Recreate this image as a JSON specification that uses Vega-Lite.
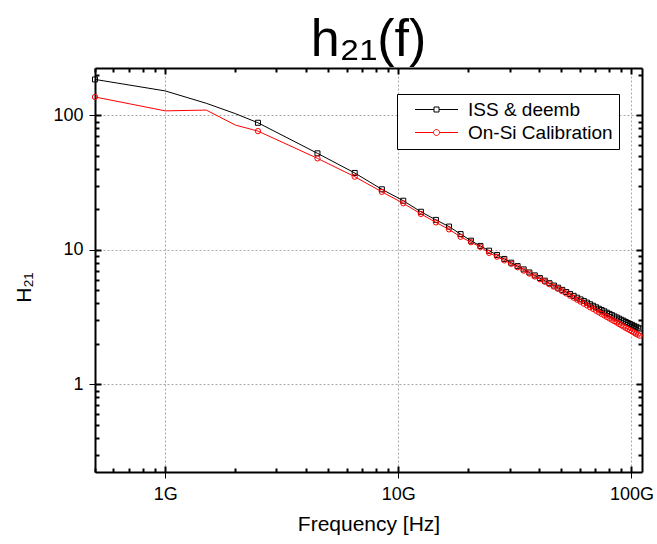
{
  "$schema": "https://vega.github.io/schema/vega-lite/v6.json",
  "width": 547,
  "height": 404,
  "autosize": {"type": "none"},
  "padding": {"left": 95, "top": 68, "right": 15, "bottom": 72},
  "background": "white",
  "title": {"text": "h₂₁(f)", "font": "Liberation Sans", "fontSize": 52, "fontWeight": "normal", "color": "black", "anchor": "middle", "offset": 1},
  "config": {
    "view": {"stroke": null},
    "axis": {
      "labelFont": "Liberation Sans", "labelFontSize": 18, "labelColor": "black",
      "titleFont": "Liberation Sans", "titleFontSize": 21, "titleFontWeight": "normal", "titleColor": "black",
      "gridColor": "#a8a8a8", "gridDash": [2, 2], "gridWidth": 1,
      "domain": false, "ticks": true, "tickColor": "black", "tickWidth": 1
    },
    "legend": {"labelFont": "Liberation Sans", "labelFontSize": 19, "labelColor": "black"}
  },
  "datasets": {"d": [
    {"s":"ISS & deemb","f":0.5,"h":185},{"s":"ISS & deemb","f":1,"h":152},{"s":"ISS & deemb","f":1.5,"h":123},{"s":"ISS & deemb","f":2,"h":103},
    {"s":"ISS & deemb","f":2.5,"h":88.1},{"s":"ISS & deemb","f":4.5,"h":52.2},{"s":"ISS & deemb","f":6.5,"h":37.3},{"s":"ISS & deemb","f":8.5,"h":28.2},
    {"s":"ISS & deemb","f":10.5,"h":23.2},{"s":"ISS & deemb","f":12.5,"h":19.2},{"s":"ISS & deemb","f":14.5,"h":16.7},{"s":"ISS & deemb","f":16.5,"h":14.9},
    {"s":"ISS & deemb","f":18.5,"h":13.1},{"s":"ISS & deemb","f":20.5,"h":11.7},{"s":"ISS & deemb","f":22.5,"h":10.7},{"s":"ISS & deemb","f":24.5,"h":9.86},
    {"s":"ISS & deemb","f":26.5,"h":9.16},{"s":"ISS & deemb","f":28.5,"h":8.56},{"s":"ISS & deemb","f":30.5,"h":8.03},{"s":"ISS & deemb","f":32.5,"h":7.57},
    {"s":"ISS & deemb","f":34.5,"h":7.16},{"s":"ISS & deemb","f":36.5,"h":6.79},{"s":"ISS & deemb","f":38.5,"h":6.46},{"s":"ISS & deemb","f":40.5,"h":6.17},
    {"s":"ISS & deemb","f":42.5,"h":5.90},{"s":"ISS & deemb","f":44.5,"h":5.65},{"s":"ISS & deemb","f":46.5,"h":5.43},{"s":"ISS & deemb","f":48.5,"h":5.23},
    {"s":"ISS & deemb","f":50.5,"h":5.04},{"s":"ISS & deemb","f":52.5,"h":4.86},{"s":"ISS & deemb","f":54.5,"h":4.70},{"s":"ISS & deemb","f":56.5,"h":4.55},
    {"s":"ISS & deemb","f":58.5,"h":4.41},{"s":"ISS & deemb","f":60.5,"h":4.28},{"s":"ISS & deemb","f":62.5,"h":4.16},{"s":"ISS & deemb","f":64.5,"h":4.05},
    {"s":"ISS & deemb","f":66.5,"h":3.94},{"s":"ISS & deemb","f":68.5,"h":3.84},{"s":"ISS & deemb","f":70.5,"h":3.74},{"s":"ISS & deemb","f":72.5,"h":3.65},
    {"s":"ISS & deemb","f":74.5,"h":3.57},{"s":"ISS & deemb","f":76.5,"h":3.49},{"s":"ISS & deemb","f":78.5,"h":3.41},{"s":"ISS & deemb","f":80.5,"h":3.34},
    {"s":"ISS & deemb","f":82.5,"h":3.27},{"s":"ISS & deemb","f":84.5,"h":3.20},{"s":"ISS & deemb","f":86.5,"h":3.14},{"s":"ISS & deemb","f":88.5,"h":3.08},
    {"s":"ISS & deemb","f":90.5,"h":3.02},{"s":"ISS & deemb","f":92.5,"h":2.97},{"s":"ISS & deemb","f":94.5,"h":2.91},{"s":"ISS & deemb","f":96.5,"h":2.86},
    {"s":"ISS & deemb","f":98.5,"h":2.81},{"s":"ISS & deemb","f":100.5,"h":2.77},{"s":"ISS & deemb","f":102.5,"h":2.72},{"s":"ISS & deemb","f":104.5,"h":2.68},
    {"s":"ISS & deemb","f":106.5,"h":2.64},{"s":"ISS & deemb","f":108.5,"h":2.60},
    {"s":"On-Si Calibration","f":0.5,"h":137},{"s":"On-Si Calibration","f":1,"h":108},{"s":"On-Si Calibration","f":1.5,"h":109.5},{"s":"On-Si Calibration","f":2,"h":84.7},
    {"s":"On-Si Calibration","f":2.5,"h":76.4},{"s":"On-Si Calibration","f":4.5,"h":47.9},{"s":"On-Si Calibration","f":6.5,"h":35.0},{"s":"On-Si Calibration","f":8.5,"h":27.0},
    {"s":"On-Si Calibration","f":10.5,"h":22.2},{"s":"On-Si Calibration","f":12.5,"h":18.5},{"s":"On-Si Calibration","f":14.5,"h":16.0},{"s":"On-Si Calibration","f":16.5,"h":14.2},
    {"s":"On-Si Calibration","f":18.5,"h":12.5},{"s":"On-Si Calibration","f":20.5,"h":11.4},{"s":"On-Si Calibration","f":22.5,"h":10.5},{"s":"On-Si Calibration","f":24.5,"h":9.5},
    {"s":"On-Si Calibration","f":26.5,"h":8.9},{"s":"On-Si Calibration","f":28.5,"h":8.35},{"s":"On-Si Calibration","f":30.5,"h":7.87},{"s":"On-Si Calibration","f":32.5,"h":7.42},
    {"s":"On-Si Calibration","f":34.5,"h":7.01},{"s":"On-Si Calibration","f":36.5,"h":6.66},{"s":"On-Si Calibration","f":38.5,"h":6.34},{"s":"On-Si Calibration","f":40.5,"h":6.05},
    {"s":"On-Si Calibration","f":42.5,"h":5.79},{"s":"On-Si Calibration","f":44.5,"h":5.55},{"s":"On-Si Calibration","f":46.5,"h":5.33},{"s":"On-Si Calibration","f":48.5,"h":5.13},
    {"s":"On-Si Calibration","f":50.5,"h":4.93},{"s":"On-Si Calibration","f":52.5,"h":4.74},{"s":"On-Si Calibration","f":54.5,"h":4.57},{"s":"On-Si Calibration","f":56.5,"h":4.41},
    {"s":"On-Si Calibration","f":58.5,"h":4.26},{"s":"On-Si Calibration","f":60.5,"h":4.12},{"s":"On-Si Calibration","f":62.5,"h":3.98},{"s":"On-Si Calibration","f":64.5,"h":3.86},
    {"s":"On-Si Calibration","f":66.5,"h":3.74},{"s":"On-Si Calibration","f":68.5,"h":3.64},{"s":"On-Si Calibration","f":70.5,"h":3.53},{"s":"On-Si Calibration","f":72.5,"h":3.43},
    {"s":"On-Si Calibration","f":74.5,"h":3.34},{"s":"On-Si Calibration","f":76.5,"h":3.25},{"s":"On-Si Calibration","f":78.5,"h":3.17},{"s":"On-Si Calibration","f":80.5,"h":3.09},
    {"s":"On-Si Calibration","f":82.5,"h":3.02},{"s":"On-Si Calibration","f":84.5,"h":2.95},{"s":"On-Si Calibration","f":86.5,"h":2.88},{"s":"On-Si Calibration","f":88.5,"h":2.81},
    {"s":"On-Si Calibration","f":90.5,"h":2.75},{"s":"On-Si Calibration","f":92.5,"h":2.69},{"s":"On-Si Calibration","f":94.5,"h":2.63},{"s":"On-Si Calibration","f":96.5,"h":2.58},
    {"s":"On-Si Calibration","f":98.5,"h":2.53},{"s":"On-Si Calibration","f":100.5,"h":2.48},{"s":"On-Si Calibration","f":102.5,"h":2.43},{"s":"On-Si Calibration","f":104.5,"h":2.38},
    {"s":"On-Si Calibration","f":106.5,"h":2.34},{"s":"On-Si Calibration","f":108.5,"h":2.30}
  ]},
  "data": {"name": "d"},
  "resolve": {"axis": {"x": "independent", "y": "independent"}},
  "layer": [
    {
      "transform": [{"filter": "datum.s == 'ISS & deemb'"}],
      "mark": {"type": "line", "strokeWidth": 1},
      "encoding": {
        "x": {"field": "f", "type": "quantitative",
          "scale": {"type": "log", "domain": [0.5, 111], "nice": false, "zero": false},
          "axis": {"orient": "bottom", "title": "Frequency [Hz]", "titlePadding": 10,
            "values": [1, 10, 100], "labelExpr": "datum.value + 'G'",
            "labelPadding": 7, "labelFlush": false, "labelOverlap": false,
            "grid": true, "tickSize": 6}},
        "y": {"field": "h", "type": "quantitative",
          "scale": {"type": "log", "domain": [0.223, 225], "nice": false, "zero": false},
          "axis": {"orient": "left", "title": "H₂₁", "titleY": 219, "titlePadding": 18,
            "values": [1, 10, 100], "format": "d",
            "labelPadding": 6, "labelFlush": false, "labelOverlap": false,
            "grid": true, "tickSize": 6}},
        "color": {"field": "s", "type": "nominal",
          "scale": {"domain": ["ISS & deemb", "On-Si Calibration"], "range": ["black", "#ff0000"]},
          "legend": {"title": null, "orient": "none", "legendX": 302, "legendY": 26,
            "strokeColor": "black", "fillColor": "white", "padding": 6, "cornerRadius": 0,
            "symbolSize": 100, "symbolStrokeWidth": 1, "symbolOffset": 24, "labelOffset": 22, "rowPadding": 3,
            "encode": {"symbols": {"update": {
              "shape": {"signal": "datum.value == 'ISS & deemb' ? 'M-4.3,0H-0.5M0.5,0H4.3M-0.5,-0.5H0.5V0.5H-0.5Z' : 'M-4.3,0H-0.6M0.6,0H4.3M-0.6,0A0.6,0.6,0,1,1,0.6,0A0.6,0.6,0,1,1,-0.6,0Z'"},
              "fill": {"value": "white"},
              "strokeWidth": {"value": 1}
            }}}}}
      }
    },
    {
      "transform": [{"filter": "datum.s == 'ISS & deemb' && datum.f != 1 && datum.f != 1.5 && datum.f != 2"}],
      "mark": {"type": "point", "shape": "square", "filled": false, "color": "black", "strokeWidth": 1, "size": 25, "opacity": 1},
      "encoding": {
        "x": {"field": "f", "type": "quantitative",
          "axis": {"orient": "top", "title": null, "labels": false, "ticks": false, "domain": false, "grid": true,
            "values": [0.5,0.6,0.7,0.8,0.9,1,2,3,4,5,6,7,8,9,10,20,30,40,50,60,70,80,90,100],
            "gridColor": "black", "gridWidth": 2,
            "gridDash": {"condition": {"test": "datum.value == 1 || datum.value == 10 || datum.value == 100", "value": [6, 1000]}, "value": [4, 1000]}}},
        "y": {"field": "h", "type": "quantitative",
          "axis": {"orient": "right", "title": null, "labels": false, "ticks": false, "domain": false, "grid": true,
            "values": [0.3,0.4,0.5,0.6,0.7,0.8,0.9,1,2,3,4,5,6,7,8,9,10,20,30,40,50,60,70,80,90,100,200],
            "gridColor": "black", "gridWidth": 2,
            "gridDash": {"condition": {"test": "datum.value == 1 || datum.value == 10 || datum.value == 100", "value": [6, 1000]}, "value": [4, 1000]}}}
      }
    },
    {
      "transform": [{"filter": "datum.s == 'On-Si Calibration'"}],
      "mark": {"type": "line", "strokeWidth": 1},
      "encoding": {
        "x": {"field": "f", "type": "quantitative",
          "axis": {"orient": "bottom", "title": null, "labels": false, "ticks": false, "domain": false, "grid": true,
            "values": [0.5,0.6,0.7,0.8,0.9,1,2,3,4,5,6,7,8,9,10,20,30,40,50,60,70,80,90,100],
            "gridColor": "black", "gridWidth": 2,
            "gridDash": {"condition": {"test": "datum.value == 1 || datum.value == 10 || datum.value == 100", "value": [6, 1000]}, "value": [4, 1000]}}},
        "y": {"field": "h", "type": "quantitative",
          "axis": {"orient": "left", "title": null, "labels": false, "ticks": false, "domain": false, "grid": true,
            "values": [0.3,0.4,0.5,0.6,0.7,0.8,0.9,1,2,3,4,5,6,7,8,9,10,20,30,40,50,60,70,80,90,100,200],
            "gridColor": "black", "gridWidth": 2,
            "gridDash": {"condition": {"test": "datum.value == 1 || datum.value == 10 || datum.value == 100", "value": [6, 1000]}, "value": [4, 1000]}}},
        "color": {"field": "s", "type": "nominal"}
      }
    },
    {
      "transform": [{"filter": "datum.s == 'On-Si Calibration' && datum.f != 1 && datum.f != 1.5 && datum.f != 2"}],
      "mark": {"type": "point", "shape": "circle", "filled": false, "color": "#ff0000", "strokeWidth": 1, "size": 28, "opacity": 1},
      "encoding": {
        "x": {"field": "f", "type": "quantitative",
          "axis": {"orient": "top", "title": null, "labels": false, "ticks": false, "domain": false, "grid": true,
            "values": [0.5, 111], "gridColor": "black", "gridWidth": 2, "gridDash": []}},
        "y": {"field": "h", "type": "quantitative",
          "axis": {"orient": "right", "title": null, "labels": false, "ticks": false, "domain": false, "grid": true,
            "values": [0.223, 225], "gridColor": "black", "gridWidth": 2, "gridDash": []}}
      }
    }
  ]
}
